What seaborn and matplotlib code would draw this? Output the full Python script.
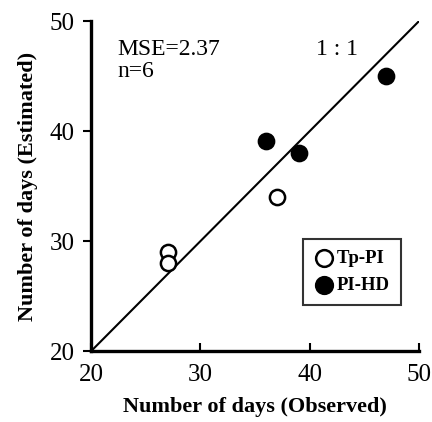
import matplotlib
matplotlib.use("Agg")
import matplotlib.pyplot as plt
import pandas as pd
import seaborn as sns

observed_tp = [27, 27, 37]
estimated_tp = [29, 28, 34]
observed_hd = [36, 39, 47]
estimated_hd = [39.1, 38, 45]
line_1to1 = [20, 50]

sns.set_style("ticks")
plt.rcParams['font.family'] = ['Liberation Serif', 'DejaVu Serif']
plt.rcParams['text.color'] = 'black'
plt.rcParams['axes.labelcolor'] = 'black'

tp = pd.DataFrame({"obs": observed_tp, "est": estimated_tp})
hd = pd.DataFrame({"obs": observed_hd, "est": estimated_hd})

fig = plt.figure(figsize=(4.32, 4.22), dpi=100)
ax = fig.add_axes([0.211, 0.168, 0.759, 0.782])

sns.lineplot(x=line_1to1, y=line_1to1, color="black", linewidth=1.5, ax=ax)
sns.scatterplot(data=tp, x="obs", y="est", ax=ax, s=120, color="white",
                edgecolor="black", linewidth=1.8, label="Tp-PI", zorder=3)
sns.scatterplot(data=hd, x="obs", y="est", ax=ax, s=120, color="black",
                edgecolor="black", linewidth=1.8, label="PI-HD", zorder=3)

ax.set_xlim(20, 50)
ax.set_ylim(20, 50)
ax.set_xticks([20, 30, 40, 50])
ax.set_yticks([20, 30, 40, 50])
sns.despine(ax=ax)
for side in ["left", "bottom"]:
    ax.spines[side].set_linewidth(2.4)
    ax.spines[side].set_color("black")
ax.tick_params(axis="x", direction="in", length=6, width=1.5, labelsize=18, pad=9, colors="black")
ax.tick_params(axis="y", direction="out", length=6, width=1.5, labelsize=18, pad=6, colors="black")

ax.set_xlabel("Number of days (Observed)", fontsize=16, fontweight="bold", labelpad=8)
ax.set_ylabel("Number of days (Estimated)", fontsize=16, fontweight="bold", labelpad=8)

ax.text(22.4, 47.4, "MSE=2.37", fontsize=17, va="center")
ax.text(22.4, 45.4, "n=6", fontsize=17, va="center")
ax.text(40.6, 47.4, "1 : 1", fontsize=17, va="center")

leg = ax.legend(loc="lower right", bbox_to_anchor=(0.945, 0.14), fontsize=13.5,
                frameon=True, fancybox=False, borderpad=0.6, handletextpad=0.2,
                handlelength=1.0, labelspacing=0.5, borderaxespad=0, markerscale=1.1)
leg.get_frame().set_edgecolor("black")
leg.get_frame().set_linewidth(1.5)
for t in leg.get_texts():
    t.set_fontweight("bold")
    t.set_color("black")

fig.savefig("out.png", dpi=100)
